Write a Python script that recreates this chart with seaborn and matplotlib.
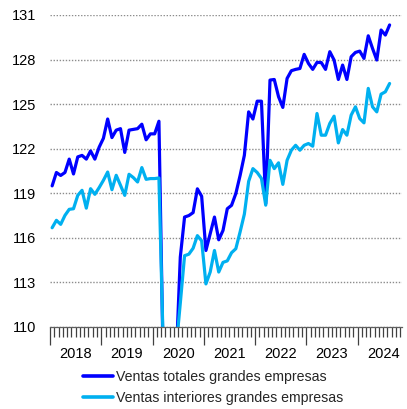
import numpy as np
import pandas as pd
import matplotlib
matplotlib.use("Agg")
import matplotlib.pyplot as plt
import matplotlib.transforms as mtransforms
from matplotlib.ticker import MultipleLocator, NullFormatter
import seaborn as sns

years = [2018, 2019, 2020, 2021, 2022, 2023, 2024]
series_names = ["Ventas totales grandes empresas", "Ventas interiores grandes empresas"]

totales = [
    119.5, 120.4, 120.2, 120.4, 121.3, 120.3, 121.45, 121.55, 121.3, 121.85, 121.3, 122.1,
    122.7, 124.0, 122.75, 123.25, 123.35, 121.75, 123.25, 123.3, 123.35, 123.65, 122.6, 123.0,
    123.0, 123.85, 107.5, 88.0, 96.0, 107.5, 114.7, 117.4, 117.5, 117.7, 119.3, 118.8,
    115.15, 116.28, 117.4, 115.87, 116.5, 117.96, 118.19, 118.98, 120.2, 121.56, 124.48, 124.0,
    125.2, 125.2, 118.3, 126.62, 126.66, 125.5, 124.78, 126.73, 127.25, 127.34, 127.4, 128.35,
    127.74, 127.34, 127.81, 127.8, 127.34, 128.53, 127.97, 126.66, 127.63, 126.66, 128.19, 128.48,
    128.57, 128.08, 129.6, 128.75, 127.97, 129.99, 129.65, 130.33,
]
interiores = [
    116.68, 117.18, 116.91, 117.51, 117.92, 117.96, 118.86, 119.2, 118.0, 119.31, 118.93, 119.38,
    119.87, 120.43, 119.24, 120.21, 119.54, 118.86, 120.28, 120.06, 119.76, 120.73, 119.94, 119.99,
    119.99, 120.03, 108.8, 89.0, 97.0, 108.5, 111.6, 114.8, 114.9, 115.3, 116.15, 115.8,
    112.9, 113.7, 115.15, 113.7, 114.35, 114.45, 115.0, 115.27, 116.4, 117.6, 119.8, 120.66,
    120.4, 120.0, 118.2, 121.22, 120.66, 121.05, 119.6, 121.22, 121.9, 122.23, 121.9, 122.23,
    122.35, 122.17, 124.37, 122.91, 122.91, 123.7, 124.19, 122.39, 123.29, 122.91, 124.26, 124.82,
    124.03, 123.74, 126.06, 124.82, 124.48, 125.67, 125.83, 126.39,
]
y_ticks = [110, 113, 116, 119, 122, 125, 128, 131]

n = len(totales)
month_pos = np.arange(n) + 0.5
df = pd.DataFrame({
    "mes": np.concatenate([month_pos, month_pos]),
    "valor": totales + interiores,
    "serie": [series_names[0]] * n + [series_names[1]] * n,
})

sns.set_theme(style="white")
plt.rcParams["font.family"] = ["Liberation Sans", "DejaVu Sans"]

FS = 10.5
W, H = 407, 409
fig = plt.figure(figsize=(W / 100, H / 100), dpi=100)
ax = fig.add_axes([50 / W, 1 - 327 / H, 352 / W, 312 / H])

palette = {series_names[0]: "#0000FF", series_names[1]: "#00B0F0"}
sns.lineplot(data=df, x="mes", y="valor", hue="serie", palette=palette,
             hue_order=series_names, linewidth=2.3, ax=ax, legend=True)

ax.set_xlim(0, 82.4)
ax.set_ylim(110, 131)
ax.set_xlabel("")
ax.set_ylabel("")

ax.set_yticks(y_ticks)
ax.set_yticklabels([str(v) for v in y_ticks])
ax.tick_params(axis="y", length=0, pad=10, labelsize=FS, labelcolor="#000000")
ax.yaxis.grid(True, color="#8c8c8c", linestyle=(0, (1, 1.2)), linewidth=1.0)
ax.xaxis.grid(False)

ax.xaxis.set_major_locator(MultipleLocator(12))
ax.xaxis.set_minor_locator(MultipleLocator(1))
ax.xaxis.set_major_formatter(NullFormatter())
ax.tick_params(axis="x", which="major", length=13, width=0.9, color="#404040", bottom=True)
ax.tick_params(axis="x", which="minor", length=7, width=0.9, color="#404040", bottom=True)

for s in ["left", "right", "top"]:
    ax.spines[s].set_visible(False)
ax.spines["bottom"].set_color("#606060")
ax.spines["bottom"].set_linewidth(0.9)

trans = mtransforms.blended_transform_factory(ax.transData, ax.transAxes)
for k, yr in enumerate(years):
    ax.text(12 * k + 6, -27.5 / 312, str(yr), transform=trans, ha="center", va="center",
            fontsize=FS, color="#000000")

handles, labels = ax.get_legend_handles_labels()
ax.get_legend().remove()
for h in handles:
    h.set_linewidth(2.6)
fig.legend(handles, labels, loc="center left", bbox_to_anchor=(83 / W, 1 - 387.5 / H),
           frameon=False, fontsize=10.2, handlelength=2.15, handletextpad=0.15,
           borderpad=0, borderaxespad=0, labelspacing=0.5)

fig.savefig("out.png", dpi=100)
